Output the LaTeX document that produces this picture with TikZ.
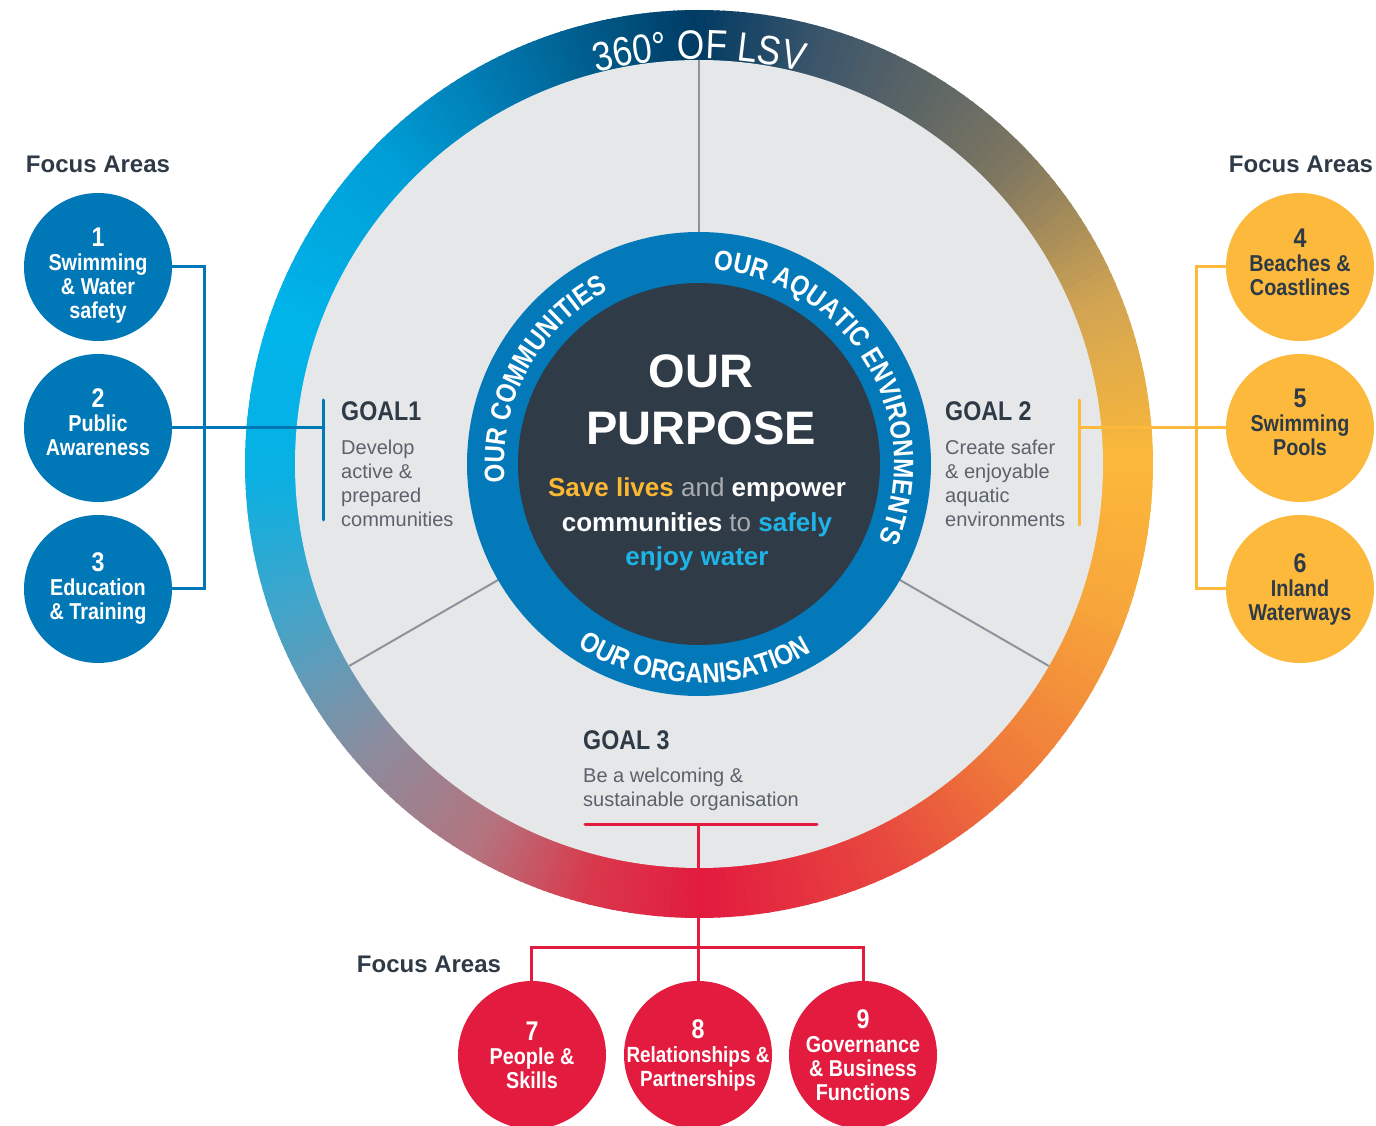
\documentclass[tikz,border=0pt]{standalone}
\usepackage{fontspec}
\setmainfont{Liberation Sans}
\newfontfamily\condf[FakeStretch=0.86]{Liberation Sans}
\usetikzlibrary{decorations.text}
\definecolor{lsvblue}{HTML}{0077B6}
\definecolor{lsvring}{HTML}{0479BA}
\definecolor{lsvgold}{HTML}{FCB93B}
\definecolor{lsvred}{HTML}{E31B3F}
\definecolor{lsvdark}{HTML}{2E3A46}
\definecolor{lsvcore}{HTML}{2F3B46}
\definecolor{lsvgrey}{HTML}{E6E7E9}
\definecolor{lsvtext}{HTML}{5A626B}
\definecolor{lsvline}{HTML}{8C939B}
\definecolor{lsvsun}{HTML}{FBB832}
\definecolor{lsvsky}{HTML}{1EB4E8}
\definecolor{lsvmute}{HTML}{A9ADB1}
% ring colour stops
\definecolor{r0}{HTML}{003B64}
\definecolor{r1}{HTML}{00527F}
\definecolor{r2}{HTML}{0074AA}
\definecolor{r3}{HTML}{009ED7}
\definecolor{r4}{HTML}{00B4EA}
\definecolor{r5}{HTML}{07B1E4}
\definecolor{r6}{HTML}{45A4C8}
\definecolor{r7}{HTML}{8A8D9F}
\definecolor{r8}{HTML}{B5737D}
\definecolor{r9}{HTML}{D9384C}
\definecolor{r10}{HTML}{E31B3F}
\definecolor{r11}{HTML}{E7473F}
\definecolor{r12}{HTML}{EF7A3A}
\definecolor{r13}{HTML}{F7A63A}
\definecolor{r14}{HTML}{FBB83A}
\definecolor{r15}{HTML}{D3A552}
\definecolor{r16}{HTML}{7B7561}
\definecolor{r17}{HTML}{3D566A}
\begin{document}
\begin{tikzpicture}[x=1pt,y=1pt,
        focus/.style={circle,minimum size=148,inner sep=0},
        fblue/.style={focus,fill=lsvblue},
        fgold/.style={focus,fill=lsvgold},
        fred/.style={focus,fill=lsvred},
        fatext/.style={align=center,inner sep=0,text=white,font=\condf\bfseries\fontsize{23}{24}\selectfont},
        fhead/.style={anchor=base,inner sep=0,text=lsvdark,font=\bfseries\fontsize{24}{24}\selectfont},
        goalhead/.style={anchor=base west,inner sep=0,text=lsvdark,font=\condf\bfseries\fontsize{27}{27}\selectfont},
        goalbody/.style={anchor=base west,inner sep=0,text=lsvtext,font=\fontsize{20}{24}\selectfont},
        mission/.style={anchor=base,inner sep=0,text=white,font=\bfseries\fontsize{26}{26}\selectfont},
        link/.style={line width=3,line cap=round},
        divider/.style={draw=lsvline,line width=2},
        ringtext/.style={decorate,decoration={text along path,text align=center,text color=white,text={#1}}}]
        \useasboundingbox (-699,-662) rectangle (677,464);
        % Outer ring
        \foreach \a/\b/\ca/\cb in {90/100/r0/r1,100/115/r1/r2,115/135/r2/r3,135/160/r3/r4,160/180/r4/r5,
                180/200/r5/r6,200/220/r6/r7,220/240/r7/r8,240/255/r8/r9,255/270/r9/r10,270/295/r10/r11,
                295/315/r11/r12,315/340/r12/r13,340/360/r13/r14,360/381/r14/r15,381/404/r15/r16,
                404/433/r16/r17,433/450/r17/r0}
            \foreach \s in {0,...,19} {
                \pgfmathsetmacro\p{5*\s}
                \pgfmathsetmacro\u{\a+(\b-\a)*\s/20}
                \pgfmathsetmacro\v{\a+(\b-\a)*(\s+1)/20+0.3}
                \colorlet{seg}{\cb!\p!\ca}
                \fill[seg] (\u:402) arc[start angle=\u,end angle=\v,radius=402] -- (\v:454)
                    arc[start angle=\v,end angle=\u,radius=454] -- cycle;
            }
        \fill[lsvgrey] (0,0) circle[radius=404];
        \foreach \t in {90,210,330} \draw[divider] (\t:230) -- (\t:404);
        \path[ringtext={|\condf\fontsize{41}{41}\selectfont|360° OF LSV}] (120:405) arc[start angle=120,end angle=60,radius=405];
        % Purpose
        \fill[lsvring] (0,0) circle[radius=232];
        \fill[lsvcore] (0,0) circle[radius=181];
        \path[ringtext={|\condf\bfseries\fontsize{28}{28}\selectfont|OUR COMMUNITIES}] (200:195) arc[start angle=200,end angle=103,radius=195];
        \path[ringtext={|\condf\bfseries\fontsize{28}{28}\selectfont|OUR AQUATIC ENVIRONMENTS}] (100:195) arc[start angle=100,end angle=-37.2,radius=195];
        \path[ringtext={|\condf\bfseries\fontsize{28}{28}\selectfont|OUR ORGANISATION}] (220:219) arc[start angle=220,end angle=317.4,radius=219];
        \node[anchor=base,inner sep=0,text=white,font=\bfseries\fontsize{47}{47}\selectfont] (our) at (2,76) {OUR};
        \node[anchor=base,inner sep=0,text=white,font=\bfseries\fontsize{47}{47}\selectfont] (purpose) at (2,19) {PURPOSE};
        \node[mission] (mis1) at (-2,-33) {\textcolor{lsvsun}{Save lives} \textcolor{lsvmute}{\mdseries and} empower};
        \node[mission] (mis2) at (-2,-68) {communities \textcolor{lsvmute}{\mdseries to} \textcolor{lsvsky}{safely}};
        \node[mission,text=lsvsky] (mis3) at (-2,-102) {enjoy water};
        % Goals
        \node[goalhead] (g1) at (-358,43) {GOAL1};
        \foreach \t [count=\i from 0] in {Develop,active \&,prepared,communities}
            \node[goalbody] (g1l\i) at (-358,9-24*\i) {\t};
        \node[goalhead] (g2) at (246,43) {GOAL 2};
        \foreach \t [count=\i from 0] in {Create safer,\& enjoyable,aquatic,environments}
            \node[goalbody] (g2l\i) at (246,9-24*\i) {\t};
        \node[goalhead] (g3) at (-116,-286) {GOAL 3};
        \foreach \t [count=\i from 0] in {Be a welcoming \&,sustainable organisation}
            \node[goalbody] (g3l\i) at (-116,-318-24*\i) {\t};
        % Left focus areas
        \node[fhead] (fhl) at (-601,291) {Focus Areas};
        \node[fblue] (fa1) at (-601,197) {};
        \node[fblue] (fa2) at (-601,36) {};
        \node[fblue] (fa3) at (-601,-125) {};
        \node[fatext] (fa1t) at ([yshift=-9]fa1.center) {{\fontsize{27}{27}\selectfont 1}\\Swimming\\\& Water\\safety};
        \node[fatext] (fa2t) at ([yshift=6]fa2.center) {{\fontsize{27}{27}\selectfont 2}\\Public\\Awareness};
        \node[fatext] (fa3t) at (fa3.center) {{\fontsize{27}{27}\selectfont 3}\\Education\\\& Training};
        \coordinate (lbr) at (-494,0);
        \coordinate (g1a) at (-375,64);
        \coordinate (g1b) at (-375,-56);
        \draw[link,draw=lsvblue] (g1a) -- (g1b);
        \draw[link,draw=lsvblue] (fa2.east) -- (fa2.east -| g1a);
        \draw[link,draw=lsvblue,line cap=butt] (fa1.east) -- (fa1.east -| lbr) -- (fa3.east -| lbr) -- (fa3.east);
        % Right focus areas
        \node[fhead] (fhr) at (602,291) {Focus Areas};
        \node[fgold] (fa4) at (601,197) {};
        \node[fgold] (fa5) at (601,36) {};
        \node[fgold] (fa6) at (601,-125) {};
        \node[fatext,text=lsvdark] (fa4t) at ([yshift=5]fa4.center) {{\fontsize{27}{27}\selectfont 4}\\Beaches \&\\Coastlines};
        \node[fatext,text=lsvdark] (fa5t) at ([yshift=6]fa5.center) {{\fontsize{27}{27}\selectfont 5}\\Swimming\\Pools};
        \node[fatext,text=lsvdark] (fa6t) at (fa6.center) {{\fontsize{27}{27}\selectfont 6}\\Inland\\Waterways};
        \coordinate (rbr) at (497,0);
        \coordinate (g2a) at (380,64);
        \coordinate (g2b) at (380,-61);
        \draw[link,draw=lsvgold] (g2a) -- (g2b);
        \draw[link,draw=lsvgold] (fa5.west) -- (fa5.west -| g2a);
        \draw[link,draw=lsvgold,line cap=butt] (fa4.west) -- (fa4.west -| rbr) -- (fa6.west -| rbr) -- (fa6.west);
        % Bottom focus areas
        \node[fhead] (fhb) at (-270,-508) {Focus Areas};
        \node[fred] (fa7) at (-167,-591) {};
        \node[fred] (fa8) at (-1,-591) {};
        \node[fred] (fa9) at (164,-591) {};
        \node[fatext] (fa7t) at (fa7.center) {{\fontsize{27}{27}\selectfont 7}\\People \&\\Skills};
        \node[fatext,font=\condf\bfseries\fontsize{22}{24}\selectfont] (fa8t) at (fa8.center) {{\fontsize{27}{27}\selectfont 8}\\Relationships \&\\Partnerships};
        \node[fatext] (fa9t) at (fa9.center) {{\fontsize{27}{27}\selectfont 9}\\Governance\\\& Business\\Functions};
        \coordinate (g3l) at (-114,-360);
        \coordinate (g3r) at (118,-360);
        \coordinate (g3m) at (-1,-360);
        \coordinate (rj) at (0,-483);
        \draw[link,draw=lsvred] (g3l) -- (g3r);
        \draw[link,draw=lsvred,line cap=butt] (g3m) -- (fa8.north);
        \draw[link,draw=lsvred,line cap=butt] (fa7.north) -- (fa7.north |- rj) -- (fa9.north |- rj) -- (fa9.north);
    \end{tikzpicture}
\end{document}
